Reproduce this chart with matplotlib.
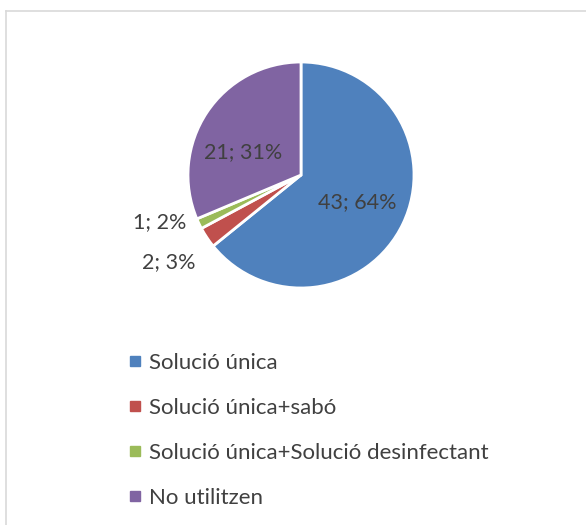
import matplotlib.pyplot as plt
import numpy as np
from matplotlib.lines import Line2D

plt.rcParams['font.family'] = ['Lato', 'DejaVu Sans']

# data
categories = ['Solució única', 'Solució única+sabó',
              'Solució única+Solució desinfectant', 'No utilitzen']
counts = [43, 2, 1, 21]
percents = [64, 3, 2, 31]  # as printed on the chart
colors = ['#4F81BD', '#C0504D', '#9BBB59', '#8064A2']
label_r = [0.55, 1.40, 1.32, 0.55]
label_shift = [0, 0, -7, 12]  # degrees, nudges like Excel's best fit

fig = plt.figure(figsize=(5.86, 5.25), dpi=100)
W, H = 586, 525
cx, cy, r = 301, 175, 113
ax = fig.add_axes([(cx - r) / W, 1 - (cy + r) / H, 2 * r / W, 2 * r / H])

wedges, _ = ax.pie(counts, colors=colors, startangle=90, counterclock=False,
                   radius=1, wedgeprops=dict(edgecolor='white', linewidth=2))
ax.set_xlim(-1, 1)
ax.set_ylim(-1, 1)
ax.set_aspect('equal')

for w, n, p, rr, sh in zip(wedges, counts, percents, label_r, label_shift):
    ang = np.deg2rad((w.theta1 + w.theta2) / 2 + sh)
    ax.text(rr * np.cos(ang), rr * np.sin(ang), f'{n}; {p}%',
            ha='center', va='center', fontsize=15.5, color='#404040',
            clip_on=False)

handles = [Line2D([], [], marker='s', linestyle='none', markersize=7,
                  markerfacecolor=c, markeredgecolor=c) for c in colors]
fig.legend(handles, categories, loc='upper left',
           bbox_to_anchor=(121 / W, 1 - 344 / H), frameon=False,
           fontsize=16, labelcolor='#404040', labelspacing=1.12,
           handlelength=0.5, handletextpad=0.35, borderaxespad=0)

# chart frame (only top and left edges fall inside the image)
fig.add_artist(Line2D([6 / W, 6 / W], [0, 1 - 11 / H], color='#D9D9D9',
                      linewidth=1.2, transform=fig.transFigure))
fig.add_artist(Line2D([6 / W, 1], [1 - 11 / H, 1 - 11 / H], color='#D9D9D9',
                      linewidth=1.2, transform=fig.transFigure))

plt.savefig('out.png', dpi=100)
